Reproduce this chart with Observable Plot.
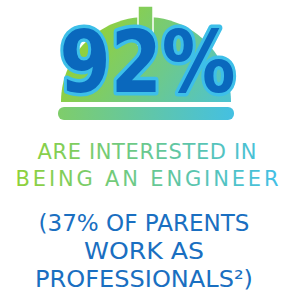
<!DOCTYPE html>
<html><head><meta charset="utf-8">
<script src="https://cdn.jsdelivr.net/npm/d3@7"></script>
<script src="https://cdn.jsdelivr.net/npm/@observablehq/plot@0.6"></script>
<style>body{margin:0;background:#fff}svg{display:block}</style>
</head><body><div id="chart"></div>
<script>
const headline = ["92%"];
const labelLines = ["ARE INTERESTED IN", "BEING AN ENGINEER"];
const noteLines = ["(37% OF PARENTS", "WORK AS", "PROFESSIONALS²)"];

// dome geometry (decorative semicircle)
const cx = 146, cy = 102, r = 85;
const dome = d3.range(0, 181, 2).map(a => {
  const t = Math.PI * a / 180;
  return {x: cx - r * Math.cos(t), y: cy - r * Math.sin(t)};
});

const plot = Plot.plot({
  width: 283, height: 294, margin: 0,
  x: {domain: [0, 283], range: [0, 283], axis: null},
  y: {domain: [0, 294], range: [0, 294], axis: null},
  marks: [
    Plot.areaY(dome, {x: "x", y1: cy, y2: "y", fill: "url(#domeGrad)"}),
    Plot.rect([0], {x1: 138, x2: 153, y1: 6, y2: 45, fill: "url(#domeGrad)", stroke: "white", strokeWidth: 1.5}),
    Plot.rect([0], {x1: 58, x2: 234, y1: 107, y2: 120, rx: 6, fill: "url(#barGrad)"}),
    Plot.text(headline, {x: 147, y: 91, text: d => d, lineAnchor: "bottom", fontSize: 85, fontWeight: "bold",
      fontFamily: "DejaVu Sans", fill: "#0a68bd", stroke: "#3dbfe9", strokeWidth: 7, paintOrder: "stroke",
      strokeLinejoin: "round", className: "headline"}),
    Plot.text([labelLines.join("\n")], {x: 146.5, y: 185, text: d => d, lineAnchor: "bottom", fontSize: 21,
      lineHeight: 27 / 21, fontFamily: "DejaVu Sans", fill: "url(#textGrad)", className: "label"}),
    Plot.text([noteLines.join("\n")], {x: 143.5, y: 286, text: d => d, lineAnchor: "bottom", fontSize: 23,
      lineHeight: 28 / 23, fontFamily: "DejaVu Sans", fill: "#1a6fc1", className: "note"})
  ]
});

const defs = d3.select(plot).insert("defs", ":first-child");
function grad(id, x1, y1, x2, y2, stops) {
  const g = defs.append("linearGradient").attr("id", id).attr("gradientUnits", "userSpaceOnUse")
    .attr("x1", x1).attr("y1", y1).attr("x2", x2).attr("y2", y2);
  stops.forEach(([o, c]) => g.append("stop").attr("offset", o).attr("stop-color", c));
}
grad("domeGrad", 90, 20, 220, 110, [[0, "#95d134"], [1, "#4ec3cf"]]);
grad("barGrad", 58, 0, 234, 0, [[0, "#7fcd6a"], [1, "#44c0e2"]]);
grad("textGrad", -131, 0, 132, 0, [[0, "#8fd13a"], [1, "#42bfe6"]]);

// fit each line to the reference's measured widths
function fit(cls, widths, adjust) {
  const texts = d3.select(plot).selectAll(`g.${cls} text`);
  texts.each(function () {
    const spans = d3.select(this).selectAll("tspan");
    if (spans.empty()) {
      d3.select(this).attr("textLength", widths[0]).attr("lengthAdjust", adjust);
    } else {
      spans.each(function (d, i) { d3.select(this).attr("textLength", widths[i]).attr("lengthAdjust", adjust); });
    }
  });
}
fit("headline", [176], "spacingAndGlyphs");
fit("label", [219, 263], "spacing");
fit("note", [211, 120, 218], "spacingAndGlyphs");

document.getElementById("chart").append(plot);
</script></body></html>
